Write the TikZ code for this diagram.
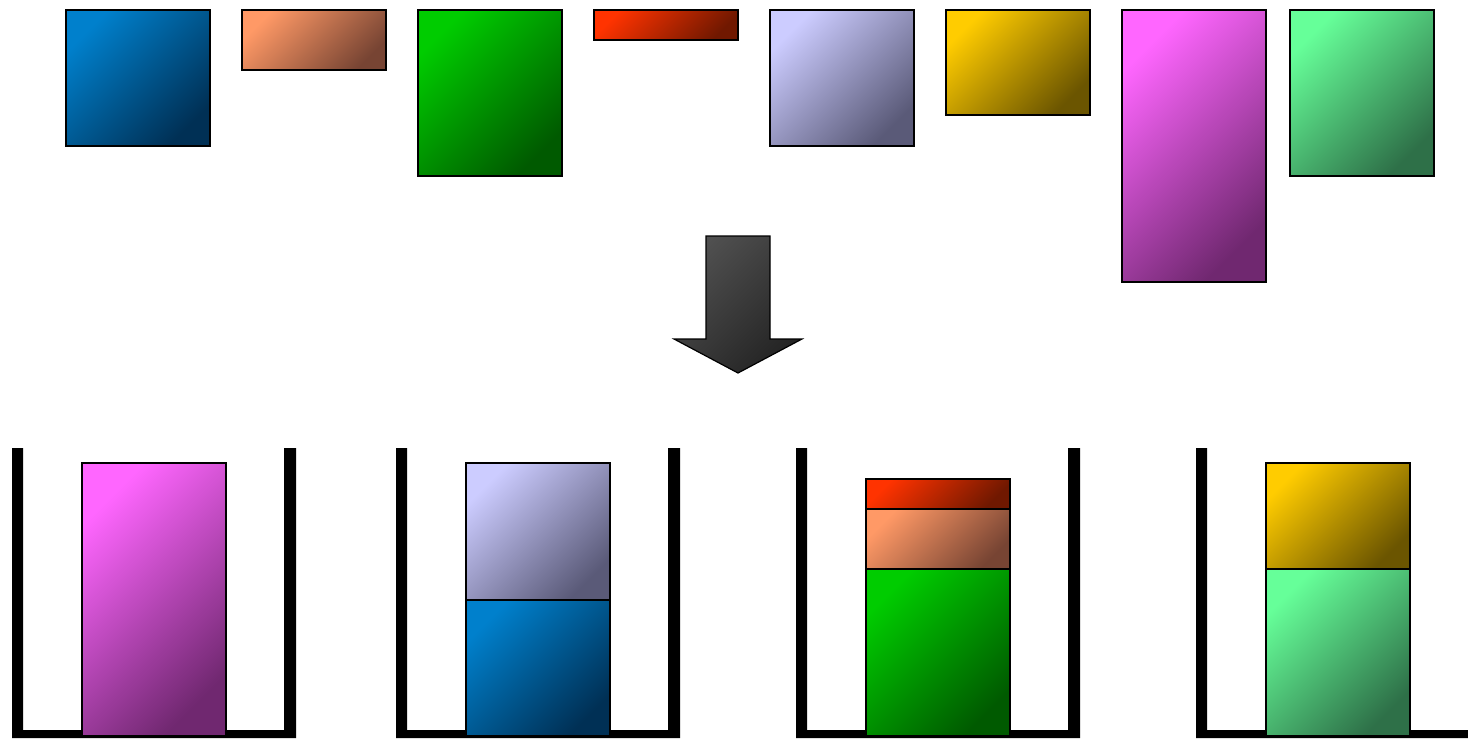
\documentclass[tikz,border=0pt]{standalone}
\usetikzlibrary{shapes.geometric}
\definecolor{blueA}{HTML}{0080CC}\definecolor{blueB}{HTML}{003055}
\definecolor{orA}{HTML}{FF9966}\definecolor{orB}{HTML}{774433}
\definecolor{grA}{HTML}{00CC00}\definecolor{grB}{HTML}{005A00}
\definecolor{rdA}{HTML}{FF3300}\definecolor{rdB}{HTML}{701800}
\definecolor{lvA}{HTML}{CCCCFF}\definecolor{lvB}{HTML}{5A5A78}
\definecolor{gdA}{HTML}{FFCC00}\definecolor{gdB}{HTML}{6B5500}
\definecolor{mgA}{HTML}{FF66FF}\definecolor{mgB}{HTML}{702870}
\definecolor{lgA}{HTML}{66FF99}\definecolor{lgB}{HTML}{2E7048}
\definecolor{arA}{HTML}{505050}\definecolor{arB}{HTML}{242424}
\tikzset{
  item/.style={draw=black, line width=1.4pt, inner sep=0pt, outer sep=0pt,
    anchor=north west, minimum width=144pt},
  it/.style n args={3}{item, minimum height=#1, top color=#2, bottom color=#3, shading angle=45},
  bluebox/.style={it={#1}{blueA}{blueB}},
  orbox/.style={it={#1}{orA}{orB}},
  grbox/.style={it={#1}{grA}{grB}},
  rdbox/.style={it={#1}{rdA}{rdB}},
  lvbox/.style={it={#1}{lvA}{lvB}},
  gdbox/.style={it={#1}{gdA}{gdB}},
  mgbox/.style={it={#1}{mgA}{mgB}},
  lgbox/.style={it={#1}{lgA}{lgB}},
  binwall/.style={fill=black, draw=none},
  bigarrow/.style={draw=black, line width=1.2pt, top color=arA, bottom color=arB, shading angle=45}
}
\begin{document}
\begin{tikzpicture}[x=1pt,y=-1pt]
\useasboundingbox (0,0) rectangle (1468,739);
% unsorted items
\node[bluebox=136pt] (b) at (66,10) {};
\node[orbox=60pt] (o) at (242,10) {};
\node[grbox=166pt] (g) at (418,10) {};
\node[rdbox=30pt] (r) at (594,10) {};
\node[lvbox=136pt] (l) at (770,10) {};
\node[gdbox=105pt] (y) at (946,10) {};
\node[mgbox=272pt] (m) at (1122,10) {};
\node[lgbox=166pt] (lg) at (1290,10) {};
% arrow
\path[bigarrow] (706,236) -- (770,236) -- (770,339) -- (802,339) -- (738,373) -- (674,339) -- (706,339) -- cycle;
% bins
\foreach \x in {12,396,796}{
  \fill[binwall] (\x,448) -- (\x,738) -- (\x+284,738) -- (\x+284,448) -- (\x+272,448) -- (\x+272,730) -- (\x+11,730) -- (\x+11,448) -- cycle;
}
\fill[binwall] (1196,448) -- (1196,738) -- (1468,738) -- (1468,730) -- (1207,730) -- (1207,448) -- cycle;
% packed items
\node[mgbox=273pt] (m2) at (82,463) {};
\node[lvbox=137pt] (l2) at (466,463) {};
\node[bluebox=136pt] (b2) at (466,600) {};
\node[rdbox=30pt] (r2) at (866,479) {};
\node[orbox=60pt] (o2) at (866,509) {};
\node[grbox=167pt] (g2) at (866,569) {};
\node[gdbox=106pt] (y2) at (1266,463) {};
\node[lgbox=167pt] (lg2) at (1266,569) {};
\end{tikzpicture}
\end{document}
